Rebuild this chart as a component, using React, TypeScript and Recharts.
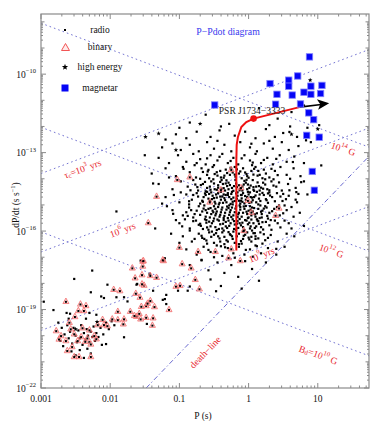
import React from 'react';
import { ScatterChart, Scatter, XAxis, YAxis, ReferenceLine } from 'recharts';

// every point is [log10 P (s), log10 Pdot (s/s)]
type Pt = [number, number];

const radio: Pt[] = [
  // young / upper part of the cloud
  [-0.85, -11.85], [-0.62, -11.55], [-0.28, -11.9], [0.15, -11.3], [0.42, -11.7], [0.62, -11.45], [1.02, -11.95],
  [-0.4, -12.0], [0.3, -11.95], [-1.0, -12.05], [0.8, -11.2], [0.59, -12.21], [0.83, -12.53], [1.05, -12.4],
  [-1.05, -12.3], [-0.9, -12.45], [-0.75, -12.2], [-0.55, -12.4], [-0.42, -12.15], [-0.2, -12.35], [-0.05, -12.2],
  [0.1, -12.45], [0.25, -12.1], [0.38, -12.4], [0.5, -12.25], [0.7, -12.4], [0.85, -12.05], [-1.2, -12.5], [0.6, -12.0],
  [-1.25, -12.8], [-1.1, -12.65], [-0.98, -12.9], [-0.85, -12.7], [-0.72, -12.95], [-0.6, -12.6], [-0.5, -12.85],
  [-0.35, -12.7], [-0.25, -12.95], [-0.12, -12.6], [0.02, -12.8], [0.12, -12.95], [0.22, -12.65], [0.35, -12.85],
  [0.48, -12.6], [0.58, -12.9], [0.72, -12.75], [0.9, -12.6], [-0.45, -12.55], [0.3, -12.55], [0.04, -12.66],
  [-1.3, -13.2], [-1.15, -13.4], [-1.02, -13.1], [-0.9, -13.35], [-0.8, -13.05], [-0.7, -13.25], [-0.62, -13.45],
  [-0.55, -13.1], [-0.45, -13.3], [-0.38, -13.05], [-0.3, -13.4], [-0.22, -13.2], [-0.15, -13.45], [-0.06, -13.1],
  [0.02, -13.3], [0.1, -13.05], [0.18, -13.4], [0.27, -13.2], [0.35, -13.45], [0.45, -13.1], [0.55, -13.35],
  [0.66, -13.15], [0.8, -13.4], [-0.5, -13.48], [0.05, -13.48], [1.05, -13.49], [0.64, -13.36],
  [-0.6, -13.22], [-0.42, -13.16], [-0.26, -13.32], [-0.1, -13.22], [0.06, -13.38], [0.22, -13.28], [0.4, -13.24],
  [-0.75, -13.4],
  [-1.4, -13.8], [-1.2, -13.6], [-1.05, -13.9], [-0.95, -13.55], [-0.85, -13.75], [-0.76, -13.95], [-0.68, -13.6],
  [-0.6, -13.85], [-0.52, -13.55], [-0.46, -13.75], [-0.4, -13.95], [-0.33, -13.65], [-0.27, -13.85], [-0.2, -13.55],
  [-0.14, -13.8], [-0.08, -13.6], [-0.02, -13.9], [0.04, -13.7], [0.1, -13.55], [0.16, -13.85], [0.22, -13.65],
  [0.3, -13.95], [0.38, -13.7], [0.46, -13.55], [0.55, -13.85], [0.65, -13.6], [0.75, -13.9], [-0.57, -13.98],
  [-0.1, -13.98], [0.2, -13.98],
  [-0.66, -13.74], [-0.58, -13.66], [-0.49, -13.82], [-0.41, -13.7], [-0.35, -13.88], [-0.23, -13.76],
  [-0.17, -13.64], [-0.05, -13.76], [0.07, -13.84], [0.14, -13.7], [0.25, -13.8], [0.33, -13.62], [0.42, -13.86],
  [-0.2, -13.84], [-0.36, -13.96], [0.0, -13.96],
  // dense core
  [-1.3, -14.2], [-1.1, -14.4], [-0.98, -14.1], [-0.88, -14.3], [-0.8, -14.05], [-0.73, -14.45], [-0.66, -14.2],
  [-0.6, -14.35], [-0.54, -14.1], [-0.49, -14.4], [-0.44, -14.25], [-0.39, -14.05], [-0.34, -14.45], [-0.29, -14.15],
  [-0.24, -14.35], [-0.19, -14.05], [-0.14, -14.25], [-0.09, -14.45], [-0.04, -14.15], [0.01, -14.35], [0.06, -14.05],
  [0.11, -14.3], [0.16, -14.45], [0.21, -14.15], [0.27, -14.4], [0.33, -14.1], [0.4, -14.3], [0.48, -14.45],
  [0.57, -14.2], [0.68, -14.35], [0.8, -14.1], [-0.7, -14.0], [-0.31, -14.28], [-0.02, -14.4], [0.24, -14.02],
  [-0.69, -14.24], [-0.62, -14.48], [-0.56, -14.3], [-0.5, -14.18], [-0.46, -14.42], [-0.41, -14.12],
  [-0.36, -14.36], [-0.32, -14.06], [-0.27, -14.24], [-0.22, -14.46], [-0.18, -14.18], [-0.12, -14.38],
  [-0.07, -14.22], [-0.03, -14.04], [0.03, -14.26], [0.08, -14.46], [0.13, -14.14], [0.18, -14.34], [0.24, -14.22],
  [0.3, -14.44], [0.36, -14.26], [0.44, -14.14], [-0.77, -14.22], [-0.84, -14.44],
  [-0.44, -14.34], [-0.4, -14.5], [-0.37, -14.2], [-0.33, -14.62], [-0.29, -14.4], [-0.25, -14.58], [-0.21, -14.28],
  [-0.17, -14.76], [-0.13, -14.44], [-0.09, -14.3], [-0.05, -14.66], [-0.01, -14.5], [0.03, -14.7], [0.07, -14.32],
  [-0.55, -14.42], [0.16, -14.6], [0.28, -14.56],
  [-1.2, -14.7], [-1.0, -14.9], [-0.9, -14.6], [-0.82, -14.8], [-0.75, -14.55], [-0.7, -14.95], [-0.65, -14.7],
  [-0.6, -14.5], [-0.56, -14.85], [-0.52, -14.65], [-0.48, -14.95], [-0.44, -14.55], [-0.4, -14.8], [-0.36, -14.6],
  [-0.32, -14.9], [-0.28, -14.7], [-0.24, -14.5], [-0.2, -14.85], [-0.16, -14.65], [-0.12, -14.95], [-0.08, -14.55],
  [-0.04, -14.8], [0.0, -14.6], [0.04, -14.9], [0.08, -14.7], [0.12, -14.5], [0.17, -14.85], [0.22, -14.62],
  [0.28, -14.92], [0.34, -14.7], [0.41, -14.55], [0.49, -14.85], [0.58, -14.65], [0.7, -14.9], [-0.62, -14.62],
  [-0.3, -14.55], [-0.1, -14.75], [0.14, -14.98], [-0.46, -14.72], [0.3, -14.52],
  [-0.73, -14.68], [-0.67, -14.84], [-0.63, -14.56], [-0.58, -14.76], [-0.54, -14.52], [-0.5, -14.74],
  [-0.47, -14.6], [-0.42, -14.92], [-0.38, -14.68], [-0.34, -14.82], [-0.3, -14.62], [-0.26, -14.96],
  [-0.22, -14.72], [-0.18, -14.56], [-0.14, -14.84], [-0.1, -14.62], [-0.06, -14.94], [-0.02, -14.7],
  [0.02, -14.52], [0.06, -14.82], [0.1, -14.64], [0.15, -14.76], [0.2, -14.54], [0.25, -14.78], [0.31, -14.64],
  [0.38, -14.86], [0.46, -14.68], [0.54, -14.78], [-0.8, -14.62], [-0.86, -14.86],
  [-0.43, -14.98], [-0.39, -15.18], [-0.35, -14.74], [-0.31, -15.06], [-0.27, -15.28], [-0.23, -14.88],
  [-0.19, -15.14], [-0.15, -15.36], [-0.11, -14.84], [-0.07, -15.06], [-0.03, -15.26], [0.01, -14.92],
  [0.05, -15.1], [0.09, -15.36], [-0.53, -14.78], [-0.51, -15.28], [0.11, -14.9], [0.18, -15.26], [0.26, -15.1],
  [-0.62, -15.2],
  [-1.1, -15.2], [-0.95, -15.4], [-0.86, -15.1], [-0.78, -15.35], [-0.72, -15.05], [-0.67, -15.25], [-0.62, -15.45],
  [-0.58, -15.15], [-0.54, -15.35], [-0.5, -15.05], [-0.46, -15.25], [-0.42, -15.45], [-0.38, -15.1], [-0.34, -15.3],
  [-0.3, -15.5], [-0.26, -15.2], [-0.22, -15.4], [-0.18, -15.05], [-0.14, -15.3], [-0.1, -15.45], [-0.06, -15.15],
  [-0.02, -15.35], [0.02, -15.05], [0.06, -15.25], [0.1, -15.45], [0.14, -15.15], [0.19, -15.35], [0.24, -15.05],
  [0.3, -15.3], [0.37, -15.15], [0.45, -15.4], [0.55, -15.2], [0.65, -15.45], [-0.8, -15.48], [-0.48, -15.15],
  [-0.28, -15.02], [0.0, -15.48], [0.2, -15.22], [-0.64, -15.02], [-0.12, -15.18],
  [-0.75, -15.22], [-0.7, -15.38], [-0.65, -15.14], [-0.6, -15.3], [-0.56, -15.48], [-0.52, -15.22], [-0.48, -15.4],
  [-0.44, -15.08], [-0.4, -15.28], [-0.36, -15.5], [-0.32, -15.18], [-0.28, -15.38], [-0.24, -15.1], [-0.2, -15.28],
  [-0.16, -15.46], [-0.12, -15.08], [-0.08, -15.3], [-0.04, -15.04], [0.0, -15.22], [0.04, -15.4], [0.08, -15.12],
  [0.12, -15.32], [0.16, -15.5], [0.22, -15.14], [0.27, -15.42], [0.34, -15.24], [0.41, -15.08], [0.5, -15.32],
  [-0.83, -15.2], [-0.88, -15.42],
  [-1.0, -15.7], [-0.85, -15.9], [-0.76, -15.6], [-0.69, -15.8], [-0.63, -15.55], [-0.58, -15.95], [-0.53, -15.7],
  [-0.48, -15.85], [-0.43, -15.6], [-0.38, -15.9], [-0.33, -15.65], [-0.28, -15.8], [-0.23, -15.55], [-0.18, -15.95],
  [-0.13, -15.7], [-0.08, -15.85], [-0.03, -15.6], [0.02, -15.9], [0.07, -15.7], [0.12, -15.55], [0.18, -15.85],
  [0.25, -15.65], [0.33, -15.95], [0.42, -15.7], [0.52, -15.6], [0.62, -15.9], [-0.92, -15.55], [-0.5, -15.52],
  [-0.2, -15.75], [0.05, -15.98], [-0.36, -15.98], [0.28, -15.52],
  [-0.72, -15.76], [-0.66, -15.92], [-0.61, -15.68], [-0.55, -15.82], [-0.51, -15.62], [-0.46, -15.96],
  [-0.41, -15.74], [-0.36, -15.58], [-0.31, -15.88], [-0.26, -15.7], [-0.21, -15.92], [-0.16, -15.62],
  [-0.11, -15.78], [-0.06, -15.96], [-0.01, -15.74], [0.04, -15.56], [0.09, -15.88], [0.15, -15.72],
  [0.21, -15.94], [0.3, -15.78], [0.38, -15.6], [0.46, -15.86],
  [-0.45, -15.56], [-0.41, -15.38], [-0.33, -15.82], [-0.29, -15.6], [-0.25, -15.46], [-0.17, -15.72],
  [-0.13, -15.54], [-0.09, -15.68], [-0.01, -15.5], [0.03, -15.82], [-0.57, -15.64], [0.13, -15.6], [0.2, -15.66],
  [-0.6, -15.86],
  [-0.63, -14.12], [-0.57, -14.58], [-0.51, -14.02], [-0.47, -15.33], [-0.41, -14.68], [-0.37, -15.72], [-0.33, -14.18],
  [-0.29, -15.12], [-0.25, -14.78], [-0.21, -15.62], [-0.17, -14.32], [-0.13, -15.02], [-0.09, -14.88], [-0.05, -15.58],
  [-0.01, -14.22], [0.03, -15.18], [0.07, -14.42], [0.11, -15.82], [0.15, -14.28], [0.19, -15.48], [-0.61, -15.58],
  [-0.55, -15.12], [-0.49, -14.88], [-0.43, -15.92], [-0.39, -14.38], [-0.35, -15.42], [-0.31, -13.78], [-0.27, -16.12],
  [-0.23, -14.98], [-0.19, -13.92], [-0.15, -15.88], [-0.11, -14.62], [-0.07, -16.18], [-0.03, -13.82], [0.01, -15.68],
  [0.05, -14.72], [0.09, -16.08], [0.13, -13.88], [0.17, -15.02], [0.21, -14.38], [-0.66, -14.88], [-0.59, -13.72],
  [-0.53, -16.02], [-0.45, -13.88], [-0.37, -14.92], [-0.26, -13.58], [-0.16, -14.52], [-0.06, -14.08], [0.04, -16.22],
  [0.14, -15.62], [-0.7, -15.72], [-0.42, -16.28], [-0.22, -16.02], [0.08, -13.62], [0.26, -14.82], [0.32, -15.58],
  [0.36, -14.02], [0.44, -15.02], [-0.74, -14.32], [-0.8, -15.62], [-0.12, -13.72], [-0.34, -16.62], [-0.04, -16.72],
  [0.12, -16.58], [-0.58, -16.72], [0.22, -16.12], [-0.86, -14.98], [-0.9, -15.28], [-0.78, -13.48], [0.5, -14.58],
  [0.62, -15.08], [0.72, -14.58], [-0.98, -14.52], [-1.05, -15.58], [0.4, -16.68], [-0.68, -17.12],
  [0.6, -14.0], [0.68, -14.8], [0.74, -15.3], [0.58, -15.7], [0.66, -16.2], [0.52, -16.6], [0.8, -15.8], [0.85, -14.6],
  [0.59, -14.44], [0.69, -14.51], [0.52, -15.02], [0.76, -14.13],
  // lower part of the cloud
  [-0.95, -16.2], [-0.82, -16.4], [-0.72, -16.1], [-0.64, -16.3], [-0.57, -16.05], [-0.5, -16.45], [-0.44, -16.2],
  [-0.38, -16.05], [-0.32, -16.35], [-0.26, -16.15], [-0.2, -16.45], [-0.14, -16.1], [-0.08, -16.3], [-0.02, -16.05],
  [0.04, -16.4], [0.1, -16.2], [0.17, -16.05], [0.24, -16.35], [0.32, -16.15], [0.42, -16.4], [0.55, -16.1],
  [-0.6, -16.48], [-0.1, -16.48], [0.0, -16.25], [-0.35, -16.5], [-0.67, -16.26],
  [-0.68, -16.18], [-0.61, -16.36], [-0.54, -16.22], [-0.47, -16.08], [-0.41, -16.4], [-0.35, -16.22],
  [-0.29, -16.04], [-0.23, -16.3], [-0.17, -16.2], [-0.11, -16.38], [-0.05, -16.14], [0.01, -16.32], [0.07, -16.08],
  [0.14, -16.28], [0.2, -16.48], [0.28, -16.26], [-0.78, -16.3], [-0.4, -16.58],
  [-0.24, -16.2], [-0.08, -16.02], [-0.5, -16.14], [0.1, -16.3], [-0.14, -16.5], [-0.3, -16.4],
  [-0.9, -16.7], [-0.75, -16.9], [-0.65, -16.6], [-0.55, -16.8], [-0.46, -16.55], [-0.38, -16.95], [-0.3, -16.65],
  [-0.22, -16.85], [-0.14, -16.6], [-0.06, -16.9], [0.02, -16.7], [0.1, -16.55], [0.18, -16.85], [0.28, -16.65],
  [0.4, -16.9], [-0.5, -17.0], [-0.2, -17.02], [0.06, -16.98],
  [-0.85, -17.3], [-0.68, -17.1], [-0.58, -17.5], [-0.45, -17.2], [-0.35, -17.6], [-0.25, -17.3], [-0.15, -17.75],
  [-0.05, -17.15], [0.05, -17.45], [0.15, -17.9], [0.25, -17.2], [-0.55, -17.85], [-0.4, -18.1], [-0.1, -18.2],
  // left wing of the cloud
  [-1.38, -14.18], [-1.09, -15.34], [-0.85, -15.98], [-1.21, -17.04], [-1.43, -17.64], [-1.19, -18.44],
  [-1.24, -18.63], [-1.02, -18.28], [-0.88, -18.28], [-1.91, -15.25], [-1.5, -13.1], [-1.35, -15.9],
  [-1.15, -13.95], [-1.08, -14.62], [-1.18, -15.05], [-0.96, -15.82], [-1.12, -16.1], [-0.94, -13.62],
  [-1.25, -14.95], [-1.0, -16.45],
  // between cloud and millisecond pulsars
  [-2.26, -17.51], [-2.52, -17.83], [-2.04, -18.05], [-2.28, -18.34], [-2.09, -18.56], [-2.63, -19.13],
  [-2.3, -19.13], [-1.75, -18.69], [-1.8, -18.53], [-1.61, -18.02], [-1.56, -17.13], [-1.47, -19.55],
  [-2.06, -20.32], [-2.28, -20.68], [-1.8, -20.06], [-2.96, -18.7], [-1.62, -18.05], [-1.38, -18.28],
  [-1.21, -18.6], [-1.19, -18.79], [-0.85, -18.12], [-0.47, -18.3], [-2.58, -19.16], [-2.13, -18.5], [-1.91, -18.53],
  // millisecond pulsar clump
  [-2.82, -19.02], [-2.75, -19.5], [-2.7, -19.7], [-2.66, -19.95], [-2.62, -19.6], [-2.6, -20.1], [-2.58, -19.85],
  [-2.55, -20.3], [-2.53, -19.7], [-2.5, -20.0], [-2.48, -20.25], [-2.46, -19.8], [-2.44, -20.1], [-2.42, -19.6],
  [-2.4, -20.35], [-2.38, -19.9], [-2.36, -20.15], [-2.34, -19.75], [-2.32, -20.0], [-2.3, -20.25], [-2.28, -19.85],
  [-2.26, -20.05], [-2.24, -19.65], [-2.22, -20.2], [-2.2, -19.9], [-2.17, -20.05], [-2.14, -19.7], [-2.1, -19.95],
  [-2.06, -19.5], [-2.02, -19.75], [-1.98, -19.45], [-1.94, -19.6], [-2.56, -20.6], [-2.5, -20.75], [-2.44, -20.55],
  [-2.38, -20.85], [-2.33, -20.5], [-2.6, -19.35], [-2.35, -19.35], [-2.2, -19.2], [-2.12, -20.35], [-2.68, -20.4],
  [-2.72, -20.2],
];

const binary: Pt[] = [
  [-0.25, -13.65], [-0.4, -14.42], [-0.56, -14.89], [-0.01, -14.83], [0.04, -15.28], [0.44, -15.12], [0.39, -15.4],
  [-0.07, -15.98], [-0.25, -16.68], [-0.29, -17.02], [-0.73, -16.78], [-1.0, -16.62], [-1.33, -14.67], [-1.45, -15.68],
  [-1.03, -14.03], [-0.85, -13.93], [-0.11, -14.34], [-0.12, -17.13], [-0.48, -16.78], [-1.23, -17.13], [-0.83, -17.41],
  [-1.68, -17.41], [-1.53, -17.15], [-1.64, -17.79], [-1.95, -18.23], [-1.86, -18.28], [-1.63, -18.38], [-1.51, -18.07],
  [-1.52, -17.13], [-1.53, -17.34], [-1.24, -17.1], [-0.96, -17.25], [-1.54, -17.67], [-1.42, -17.7], [-1.33, -17.77],
  [-1.54, -18.02], [-1.05, -18.11], [-0.99, -18.08], [-0.77, -17.85], [-0.71, -18.21], [-1.57, -18.53], [-1.42, -18.66],
  [-1.36, -18.89], [-1.15, -19.0], [-1.48, -18.85], [-1.55, -18.88], [-1.62, -19.26], [-1.48, -19.3], [-1.38, -19.32],
  [-1.39, -19.6],
  [-2.64, -18.69], [-2.43, -18.79], [-2.35, -18.85], [-2.46, -19.04], [-2.38, -19.04], [-1.89, -19.07], [-1.71, -19.07],
  [-1.58, -19.15], [-1.46, -18.76], [-2.51, -19.27], [-2.11, -19.38], [-1.97, -19.36], [-1.89, -19.39], [-1.8, -19.36],
  [-1.65, -19.23], [-1.56, -19.36], [-2.18, -19.58], [-2.09, -19.58], [-2.04, -19.62], [-1.81, -19.55], [-2.59, -19.49],
  [-2.57, -19.74], [-2.78, -19.81], [-2.71, -20.0], [-2.52, -19.93], [-2.42, -20.04], [-2.33, -20.09], [-2.23, -20.0],
  [-2.64, -20.19], [-2.47, -20.19], [-2.28, -20.32], [-2.62, -20.57], [-2.52, -20.8], [-2.45, -20.8], [-2.28, -20.8],
  [-2.74, -20.13], [-2.4, -19.7], [-2.3, -19.78], [-2.36, -20.22], [-2.2, -20.12], [-2.55, -20.42],
];

const highEnergy: Pt[] = [
  [0.89, -10.23], [-1.49, -12.4], [-1.05, -12.9], [-1.3, -12.27], [0.62, -12.3], [1.0, -12.1], [-0.7, -11.9],
  [-2.5, -19.75], [-2.19, -19.47],
];

const magnetar: Pt[] = [
  [-0.49, -11.18], [0.31, -10.36], [0.41, -10.77], [0.39, -11.15], [0.58, -10.23], [0.58, -10.46], [0.63, -10.8],
  [0.71, -10.07], [0.75, -11.14], [0.8, -10.69], [0.88, -9.34], [0.9, -10.46], [0.9, -10.77], [0.87, -11.48],
  [0.94, -11.74], [1.04, -10.74], [1.06, -10.43], [0.84, -12.34], [1.02, -12.41], [0.92, -13.72], [0.95, -14.44],
];

// evolutionary track of PSR J1734-3333
const track: Pt[] = [
  [-0.177, -16.74], [-0.177, -13.3], [-0.172, -12.7], [-0.154, -12.4], [-0.105, -12.02], [-0.033, -11.83],
  [0.072, -11.7], [0.736, -11.26],
];
const nowPos: Pt[] = [[0.072, -11.7]];
const arrow: Pt[] = [[0.736, -11.26], [1.05, -11.16]];

// dotted lines of constant field (B = 1e14, 1e12, 1e10 G) and age (1e3, 1e6, 1e9 yr), read at the frame edges
const fieldLines: Pt[][] = [
  [[-3, -8.05], [1.74, -12.79]],
  [[-3, -12.03], [1.74, -16.77]],
  [[-3, -16.03], [1.74, -20.77]],
];
const ageLines: Pt[][] = [
  [[-3, -13.8], [1.74, -9.06]],
  [[-3, -16.8], [1.74, -12.06]],
  [[-3, -19.8], [1.74, -15.06]],
];
const deathLine: Pt[] = [[-1.48, -22], [1.74, -13.14]];

const xMajor = [-3, -2, -1, 0, 1];
const xLabels = ['0.001', '0.01', '0.1', '1', '10'];
const yMajor = [-22, -19, -16, -13, -10];
const yLabels = ['\u221222', '\u221219', '\u221216', '\u221213', '\u221210'];
const minorMult = [2, 3, 4, 5, 6, 7, 8, 9];

const X0 = -3, X1 = 1.74, Y0 = -22, Y1 = -7.7;
const L = 41, R = 369, T = 14, B = 388;
const FONT = "'Liberation Serif', 'DejaVu Serif', serif";

const logTicks = (lo: number, hi: number) => {
  const out: number[] = [];
  for (let d = Math.floor(lo); d <= hi; d++) {
    if (d >= lo) out.push(d);
    minorMult.forEach((k) => {
      const v = d + Math.log10(k);
      if (v > lo && v < hi) out.push(v);
    });
  }
  return out;
};
const xTicks = logTicks(X0, X1);
const yTicks = logTicks(Y0, Y1);

const toXY = (p: Pt[]) => p.map(([x, y]) => ({ x, y }));

const Empty = () => <g />;
const RadioDot = (p: any) => <rect x={p.cx - 1.1} y={p.cy - 1.1} width={2.2} height={2.2} fill="#000" />;
const BinaryTri = (p: any) => (
  <g>
    <polygon
      points={`${p.cx},${p.cy - 3.4} ${p.cx + 3},${p.cy + 2.1} ${p.cx - 3},${p.cy + 2.1}`}
      fill="rgba(255,160,160,0.3)"
      stroke="#f26a6a"
      strokeWidth={0.8}
    />
    <rect x={p.cx - 1} y={p.cy - 0.6} width={2} height={2} fill="#000" />
  </g>
);
const starPath = (cx: number, cy: number, r: number) => {
  const pts: string[] = [];
  for (let i = 0; i < 10; i++) {
    const a = -Math.PI / 2 + (i * Math.PI) / 5;
    const rr = i % 2 === 0 ? r : r * 0.42;
    pts.push(`${(cx + rr * Math.cos(a)).toFixed(2)},${(cy + rr * Math.sin(a)).toFixed(2)}`);
  }
  return pts.join(' ');
};
const Star = (p: any) => <polygon points={starPath(p.cx, p.cy, 2.4)} fill="#000" />;
const MagSquare = (p: any) => (
  <rect x={p.cx - 3.2} y={p.cy - 3.2} width={6.4} height={6.4} fill="#0505f5" stroke="#8080ff" strokeWidth={0.8} />
);
const RedDot = (p: any) => <circle cx={p.cx} cy={p.cy} r={3.3} fill="#ee1111" />;
const ArrowHead = (p: any) => {
  if (p.index !== 1) return <g />;
  const { cx, cy } = p;
  return (
    <polygon
      points={`${cx + 8},${cy - 0.8} ${cx - 4},${cy - 5.5} ${cx - 1},${cy - 0.3} ${cx - 3.5},${cy + 5}`}
      fill="#000"
      transform={`rotate(-4 ${cx} ${cy})`}
    />
  );
};

const XTick = (props: any) => {
  const v = props.payload.value;
  const x = props.x;
  const i = xMajor.findIndex((m) => Math.abs(m - v) < 1e-9);
  const len = i >= 0 ? 5 : 2.5;
  return (
    <g>
      <line x1={x} x2={x} y1={B} y2={B - len} stroke="#8a8a8a" />
      <line x1={x} x2={x} y1={T} y2={T + len} stroke="#8a8a8a" />
      {i >= 0 && (
        <text x={x} y={402} textAnchor="middle" fontSize={9.5} fontFamily={FONT} fill="#111">
          {xLabels[i]}
        </text>
      )}
    </g>
  );
};

const YTick = (props: any) => {
  const v = props.payload.value;
  const y = props.y;
  const i = yMajor.findIndex((m) => Math.abs(m - v) < 1e-9);
  const isDecade = Math.abs(v - Math.round(v)) < 1e-9;
  const len = i >= 0 ? 5 : isDecade ? 3.5 : 2;
  return (
    <g>
      <line x1={L} x2={L + len} y1={y} y2={y} stroke="#8a8a8a" />
      <line x1={R} x2={R - len} y1={y} y2={y} stroke="#8a8a8a" />
      {i >= 0 && (
        <text x={36} y={y + 3.5} textAnchor="end" fontSize={9.5} fontFamily={FONT} fill="#111">
          10<tspan fontSize={6.5} dy={-4.5}>{yLabels[i]}</tspan>
        </text>
      )}
    </g>
  );
};

const lineStyle = { stroke: '#7474d2', strokeWidth: 1, strokeDasharray: '1.6 3' };
const red = '#e8262c';

const Lbl = ({ x, y, rot, children, color = red }: any) => (
  <text
    x={x}
    y={y}
    textAnchor="middle"
    dominantBaseline="middle"
    fontSize={9.5}
    fontFamily={FONT}
    fill={color}
    transform={`rotate(${rot} ${x} ${y})`}
  >
    {children}
  </text>
);

export default function App() {
  return (
    <div style={{ position: 'absolute', left: 0, top: 0, width: 374, height: 421, background: '#fff' }}>
      <ScatterChart width={374} height={421} margin={{ top: T, right: 374 - R, bottom: 0, left: 0 }}>
        <XAxis
          type="number"
          dataKey="x"
          domain={[X0, X1]}
          allowDataOverflow
          ticks={xTicks}
          interval={0}
          tick={XTick}
          tickLine={false}
          axisLine={false}
          height={421 - B}
        />
        <YAxis
          type="number"
          dataKey="y"
          domain={[Y0, Y1]}
          allowDataOverflow
          ticks={yTicks}
          interval={0}
          tick={YTick}
          tickLine={false}
          axisLine={false}
          width={L}
        />
        {fieldLines.concat(ageLines).map((seg, i) => (
          <ReferenceLine
            key={'l' + i}
            segment={[{ x: seg[0][0], y: seg[0][1] }, { x: seg[1][0], y: seg[1][1] }]}
            ifOverflow="visible"
            {...lineStyle}
          />
        ))}
        <ReferenceLine
          segment={[{ x: deathLine[0][0], y: deathLine[0][1] }, { x: deathLine[1][0], y: deathLine[1][1] }]}
          ifOverflow="visible"
          stroke="#6a6ad0"
          strokeWidth={1}
          strokeDasharray="5 2.5 1.2 2.5"
        />
        <Scatter data={toXY(radio)} shape={RadioDot} isAnimationActive={false} />
        <Scatter data={toXY(binary)} shape={BinaryTri} isAnimationActive={false} />
        <Scatter data={toXY(highEnergy)} shape={Star} isAnimationActive={false} />
        <Scatter data={toXY(track)} line={{ stroke: '#ee1111', strokeWidth: 2 }} shape={Empty} isAnimationActive={false} />
        <Scatter data={toXY(arrow)} line={{ stroke: '#000', strokeWidth: 1.6 }} shape={ArrowHead} isAnimationActive={false} />
        <Scatter data={toXY(nowPos)} shape={RedDot} isAnimationActive={false} />
        <Scatter data={toXY(magnetar)} shape={MagSquare} isAnimationActive={false} />
      </ScatterChart>

      <svg width={374} height={421} style={{ position: 'absolute', left: 0, top: 0, pointerEvents: 'none' }}>
        <rect x={L} y={T} width={R - L} height={B - T} fill="none" stroke="#8a8a8a" strokeWidth={1.2} />

        {/* legend */}
        <rect x={64} y={29} width={2} height={2} fill="#000" />
        <polygon points="65.5,43.5 69.5,50.5 61.5,50.5" fill="rgba(255,150,150,0.2)" stroke="#f25555" strokeWidth={1} />
        <polygon points={starPath(65, 67, 3.3)} fill="#000" />
        <rect x={61.5} y={84.5} width={7} height={7} fill="#0505f5" />
        <g fontFamily={FONT} fontSize={9.5} fill="#111" textAnchor="middle">
          <text x={100} y={33}>radio</text>
          <text x={100} y={50}>binary</text>
          <text x={100} y={70}>high energy</text>
          <text x={100} y={91}>magnetar</text>
        </g>
        <text x={228} y={35} textAnchor="middle" fontFamily={FONT} fontSize={9.8} fill="#3838ee">
          P{'\u2212'}Pdot diagram
        </text>
        <text x={252} y={114} textAnchor="middle" fontFamily={FONT} fontSize={9.5} fill="#222">
          PSR J1734{'\u2212'}3333
        </text>

        {/* line labels */}
        <Lbl x={83} y={170} rot={-20}>
          {'\u03c4'}<tspan fontSize={6.5} dy={2}>c</tspan><tspan dy={-2}>=10</tspan>
          <tspan fontSize={6.5} dy={-4}>3</tspan><tspan dy={4}> yrs</tspan>
        </Lbl>
        <Lbl x={123} y={231} rot={-20}>
          10<tspan fontSize={6.5} dy={-4}>6</tspan><tspan dy={4}> yrs</tspan>
        </Lbl>
        <Lbl x={262} y={256} rot={-21}>
          10<tspan fontSize={6.5} dy={-4}>9</tspan><tspan dy={4}> yrs</tspan>
        </Lbl>
        <Lbl x={343} y={150} rot={19}>
          10<tspan fontSize={6.5} dy={-4}>14</tspan><tspan dy={4}> G</tspan>
        </Lbl>
        <Lbl x={331} y={252} rot={20}>
          10<tspan fontSize={6.5} dy={-4}>12</tspan><tspan dy={4}> G</tspan>
        </Lbl>
        <Lbl x={318} y={356} rot={20}>
          B<tspan fontSize={6.5} dy={2}>d</tspan><tspan dy={-2}>=10</tspan>
          <tspan fontSize={6.5} dy={-4}>10</tspan><tspan dy={4}> G</tspan>
        </Lbl>
        <Lbl x={206} y={353} rot={-46}>death{'\u2212'}line</Lbl>

        {/* axis titles */}
        <text x={203} y={419} textAnchor="middle" fontFamily={FONT} fontSize={9.5} fill="#111">P (s)</text>
        <text
          x={19}
          y={205}
          textAnchor="middle"
          fontFamily={FONT}
          fontSize={9.5}
          fill="#111"
          transform="rotate(-90 19 205)"
        >
          dP/dt (s s<tspan fontSize={6.5} dy={-4}>{'\u2212'}1</tspan><tspan dy={4}>)</tspan>
        </text>
      </svg>
    </div>
  );
}
